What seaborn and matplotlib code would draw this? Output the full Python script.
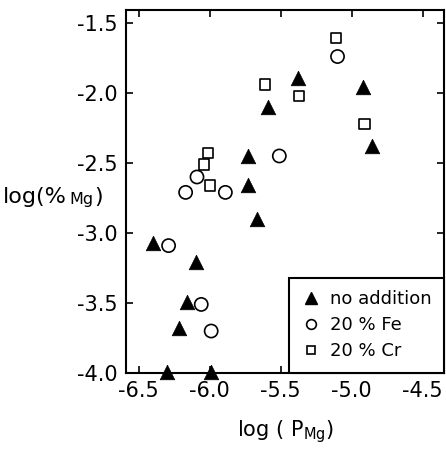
import numpy as np
import pandas as pd
import seaborn as sns
import matplotlib.pyplot as plt
from matplotlib.lines import Line2D

sns.set_style("ticks")
plt.rcParams['font.family'] = ['DejaVu Sans']
plt.rcParams['text.color'] = 'black'
plt.rcParams['axes.labelcolor'] = 'black'

# data: log(P_Mg) and log(% Mg)
none_x = [-5.59, -5.38, -4.92, -4.86, -5.73, -5.73, -5.67, -6.40, -6.10, -6.16, -6.22, -6.30, -5.99]
none_y = [-2.10, -1.89, -1.96, -2.38, -2.45, -2.66, -2.90, -3.07, -3.21, -3.49, -3.68, -3.99, -3.99]
fe_x = [-5.10, -5.51, -6.09, -6.17, -5.89, -6.29, -6.06, -5.99]
fe_y = [-1.74, -2.45, -2.60, -2.71, -2.71, -3.09, -3.51, -3.70]
cr_x = [-5.11, -5.61, -5.37, -4.91, -6.01, -6.04, -6.00]
cr_y = [-1.61, -1.94, -2.02, -2.22, -2.43, -2.51, -2.66]
labels = ["no addition", "20 % Fe", "20 % Cr"]
xticks = [-6.5, -6.0, -5.5, -5.0, -4.5]
yticks = [-4.0, -3.5, -3.0, -2.5, -2.0, -1.5]

fig = plt.figure(figsize=(4.46, 4.50), dpi=100)
ax = fig.add_axes([0.2825, 0.171, 0.713, 0.807])

sns.scatterplot(x=none_x, y=none_y, marker="^", s=110, color="black",
                edgecolor="black", linewidth=0.5, ax=ax, zorder=3, clip_on=False)
sns.scatterplot(x=fe_x, y=fe_y, marker="o", s=90, facecolor="none",
                edgecolor="black", linewidth=1.2, ax=ax, zorder=3)
sns.scatterplot(x=cr_x, y=cr_y, marker="s", s=55, facecolor="none",
                edgecolor="black", linewidth=1.2, ax=ax, zorder=3)

ax.set_xlim(-6.59, -4.35)
ax.set_ylim(-4.0, -1.407)
ax.set_xticks(xticks)
ax.set_yticks(yticks)
ax.set_xticklabels([f"{t:.1f}" for t in xticks])
ax.set_yticklabels([f"{t:.1f}" for t in yticks])
ax.tick_params(direction="in", length=5, width=1.2, labelsize=15,
               top=True, right=True, pad=6, colors="black")
for sp in ax.spines.values():
    sp.set_visible(True)
    sp.set_linewidth(1.5)
    sp.set_color("black")

ax.set_xlabel(r"log ( $\mathregular{P_{Mg}}$)", fontsize=15, labelpad=12)

# y label: "log(%" + small "Mg" + ")"
t1 = fig.text(0.007, 0.549, "log(%", fontsize=16, va="baseline", ha="left")
t2 = ax.annotate("Mg", xy=(1, 0), xycoords=t1, fontsize=11.5,
                 va="bottom", ha="left", xytext=(2, 0), textcoords="offset points")
ax.annotate(")", xy=(1, 0), xycoords=t2, fontsize=16,
            va="bottom", ha="left", xytext=(0, 0), textcoords="offset points")

handles = [
    Line2D([], [], ls="none", marker="^", ms=8.5, mfc="black", mec="black"),
    Line2D([], [], ls="none", marker="o", ms=7, mfc="none", mec="black", mew=1.2),
    Line2D([], [], ls="none", marker="s", ms=5.5, mfc="none", mec="black", mew=1.2),
]
leg = ax.legend(handles, labels, loc="lower right", fontsize=13, frameon=True,
                fancybox=False, edgecolor="black", framealpha=1,
                borderaxespad=0, handletextpad=0.55, handlelength=1.0,
                labelspacing=0.45, borderpad=0.7)
leg.get_frame().set_linewidth(1.5)
for txt in leg.get_texts():
    txt.set_color("black")

fig.savefig("out.png", dpi=100)
